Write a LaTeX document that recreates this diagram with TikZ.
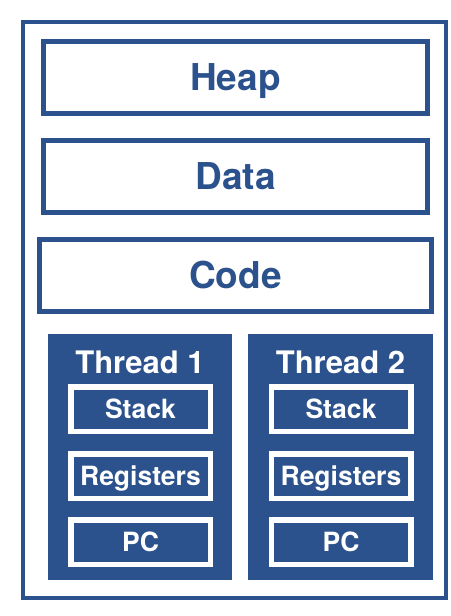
\documentclass[tikz,border=0pt]{standalone}
\usepackage{fontspec}
\setmainfont{TeX Gyre Heros}
\definecolor{osblue}{RGB}{43,82,140}
\begin{document}
\begin{tikzpicture}[x=1pt,y=-1pt,
  segbox/.style={draw=osblue, line width=5pt, inner sep=0pt, minimum width=384pt, minimum height=72pt,
    text=osblue, text height=26.5pt, text depth=0pt, font=\fontsize{37}{40}\selectfont\bfseries},
  threadbox/.style={fill=osblue, inner sep=0pt, minimum width=184pt, minimum height=246pt},
  threadlabel/.style={text=white, inner sep=0pt, font=\fontsize{31}{34}\selectfont\bfseries},
  partbox/.style={draw=white, fill=osblue, line width=5.5pt, inner sep=0pt, minimum width=139.5pt, minimum height=44.5pt,
    text=white, text height=19pt, text depth=0pt, font=\fontsize{26.5}{30}\selectfont\bfseries}]
\useasboundingbox (0,0) rectangle (450,616);
\fill[white] (0,0) rectangle (450,616);
\node[draw=osblue, line width=4pt, inner sep=0pt, minimum width=423pt, minimum height=576pt] (proc) at (234.5,310) {};
\node[segbox] (heap) at (235.5,77) {Heap};
\node[segbox] (data) at (235.5,176) {Data};
\node[segbox, minimum width=392pt] (code) at (235.5,275) {Code};
\node[threadbox] (t1) at (140,457) {};
\node[threadbox, minimum width=185pt] (t2) at (340.5,457) {};
\node[threadlabel, anchor=base] (t1l) at (140,373) {Thread 1};
\node[threadlabel, anchor=base] (t2l) at (340.5,373) {Thread 2};
\node[partbox] (s1) at (140.5,409) {Stack};
\node[partbox] (r1) at (140.5,476) {Registers};
\node[partbox] (p1) at (140.5,542) {PC};
\node[partbox] (s2) at (341,409) {Stack};
\node[partbox] (r2) at (341,476) {Registers};
\node[partbox] (p2) at (341,542) {PC};
\end{tikzpicture}
\end{document}
